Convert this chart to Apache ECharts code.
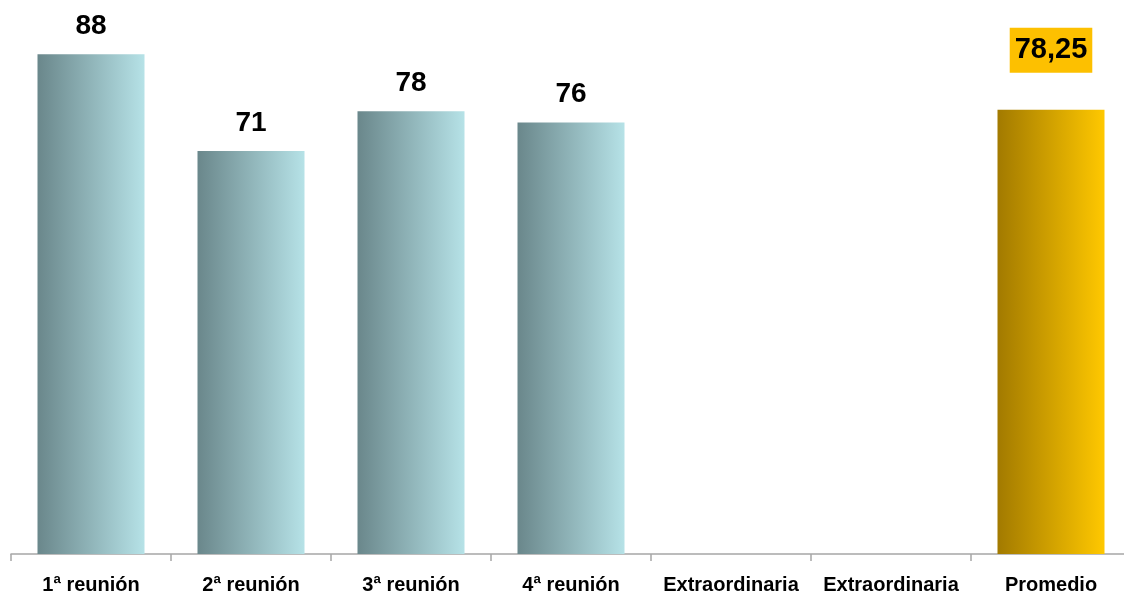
<!DOCTYPE html>
<html>
<head>
<meta charset="utf-8">
<script src="https://cdn.jsdelivr.net/npm/echarts@6/dist/echarts.min.js"></script>
<style>
html,body{margin:0;padding:0;background:#fff;overflow:hidden;width:1124px;height:599px;}
#chart{width:1131px;height:599px;}
</style>
</head>
<body>
<div id="chart"></div>
<script>
const categories = ['1ª reunión', '2ª reunión', '3ª reunión', '4ª reunión', 'Extraordinaria', 'Extraordinaria', 'Promedio'];
const values = [88, 71, 78, 76, null, null, 78.25];
const averageIndex = 6;

const FONT = '"Liberation Sans Narrow", "Arial Narrow", "Liberation Sans", Arial, sans-serif';

const tealGrad = new echarts.graphic.LinearGradient(0, 0, 1, 0, [
  { offset: 0, color: '#6a878b' },
  { offset: 1, color: '#b6e2e7' }
]);
const goldGrad = new echarts.graphic.LinearGradient(0, 0, 1, 0, [
  { offset: 0, color: '#a27a00' },
  { offset: 1, color: '#ffc800' }
]);

const seriesData = values.map((v, i) => {
  if (v === null) return '-';
  if (i === averageIndex) {
    return {
      value: v,
      itemStyle: { color: goldGrad },
      label: {
        distance: 37,
        fontSize: 29,
        lineHeight: 29,
        backgroundColor: '#fdc000',
        padding: [8, 5, 8, 5],
        formatter: (p) => String(p.value).replace('.', ',')
      }
    };
  }
  return { value: v };
});

const chart = echarts.init(document.getElementById('chart'));
chart.setOption({
  animation: false,
  backgroundColor: '#ffffff',
  grid: { left: 11, right: 0, top: 43, bottom: 45, containLabel: false },
  xAxis: {
    type: 'category',
    data: categories,
    axisLine: { show: true, lineStyle: { color: '#a6a6a6', width: 1.5 } },
    axisTick: { show: true, length: 7, lineStyle: { color: '#a6a6a6', width: 1.5 } },
    axisLabel: {
      interval: 0,
      margin: 21,
      fontFamily: FONT,
      fontWeight: 'bold',
      fontSize: 20,
      lineHeight: 20,
      color: '#000'
    }
  },
  yAxis: {
    type: 'value',
    min: 0,
    max: 90,
    show: false,
    splitLine: { show: false }
  },
  series: [{
    type: 'bar',
    data: seriesData,
    barWidth: 107,
    itemStyle: { color: tealGrad },
    label: {
      show: true,
      position: 'top',
      distance: 14,
      fontFamily: FONT,
      fontWeight: 'bold',
      fontSize: 28,
      lineHeight: 28,
      color: '#000'
    }
  }]
});
</script>
</body>
</html>
